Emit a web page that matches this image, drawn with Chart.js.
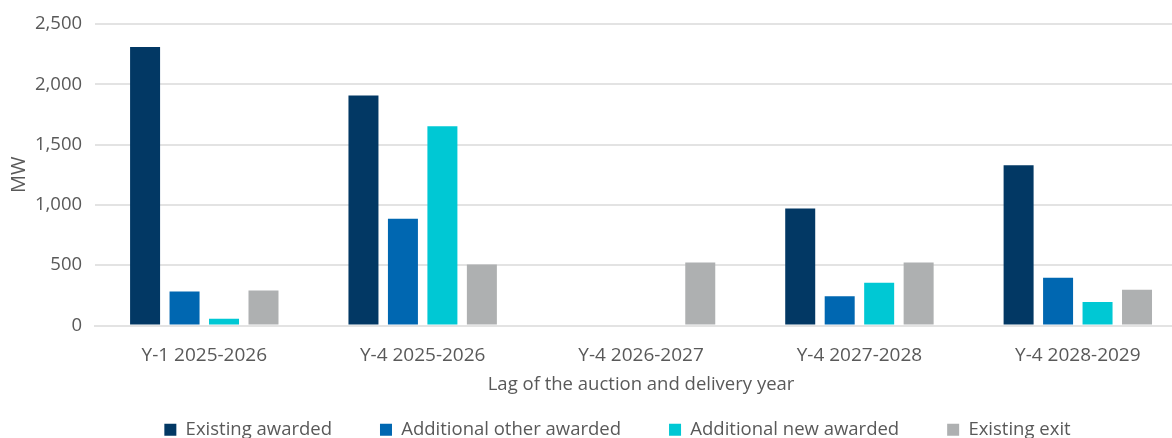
<!DOCTYPE html>
<html>
<head>
<meta charset="utf-8">
<script src="https://cdn.jsdelivr.net/npm/chart.js@4"></script>
<style>
  html, body { margin: 0; padding: 0; background: #fff; overflow: hidden; }
  #wrap { width: 1190px; height: 438px; }
</style>
</head>
<body>
<div id="wrap"><canvas id="capacityChart"></canvas></div>
<script>
// Auction categories (lag + delivery year)
const categories = ['Y-1 2025-2026', 'Y-4 2025-2026', 'Y-4 2026-2027', 'Y-4 2027-2028', 'Y-4 2028-2029'];

// MW per series
const existingAwarded = [2310, 1908, 0, 970, 1330];
const additionalOther = [282, 886, 0, 243, 396];
const additionalNew = [56, 1653, 0, 355, 194];
const existingExit = [290, 507, 523, 523, 296];

const yTicks = [0, 500, 1000, 1500, 2000, 2500];

const textColor = '#595959';
Chart.defaults.font.family = "'Open Sans', sans-serif";
Chart.defaults.color = textColor;

// nudge the legend row to the right of the canvas centre
const legendShift = {
    id: 'legendShift',
    afterLayout(chart) {
        chart.legend.left += 22;
        chart.legend.right += 22;
    }
};

const ctx = document.getElementById('capacityChart').getContext('2d');

new Chart(ctx, {
    type: 'bar',
    data: {
        labels: categories,
        datasets: [
            { label: 'Existing awarded', data: existingAwarded, backgroundColor: '#023864' },
            { label: 'Additional other awarded', data: additionalOther, backgroundColor: '#0067b1' },
            { label: 'Additional new awarded', data: additionalNew, backgroundColor: '#00c8d4' },
            { label: 'Existing exit', data: existingExit, backgroundColor: '#aeb0b1' }
        ]
    },
    plugins: [legendShift],
    options: {
        responsive: true,
        maintainAspectRatio: false,
        animation: false,
        datasets: {
            bar: { categoryPercentage: 0.723, barPercentage: 0.76 }
        },
        // negative bottom padding lets the legend row sit close to the edge
        layout: { padding: { top: 9, left: 4, right: 3, bottom: -11 } },
        plugins: {
            legend: {
                position: 'bottom',
                labels: {
                    boxWidth: 12,
                    boxHeight: 12,
                    padding: 48,
                    font: { size: 18.5 },
                    color: textColor
                }
            },
            tooltip: { enabled: false }
        },
        scales: {
            y: {
                min: 0,
                max: 2500,
                afterBuildTicks: axis => { axis.ticks = yTicks.map(v => ({ value: v })); },
                grid: { color: '#e3e3e3', lineWidth: 2, drawTicks: false },
                border: { display: false },
                ticks: {
                    padding: 13,
                    font: { size: 18.5 },
                    callback: v => v.toLocaleString('en-US')
                },
                title: { display: true, text: 'MW', font: { size: 20 }, padding: { top: 3.5, bottom: -9.5 } }
            },
            x: {
                grid: { display: false, drawTicks: false },
                border: { display: true, color: '#e3e3e3', width: 2 },
                ticks: { padding: 19, font: { size: 19 } },
                title: {
                    display: true,
                    text: 'Lag of the auction and delivery year',
                    font: { size: 18.5 },
                    // pulled up so the wide legend padding overlaps empty space
                    padding: { top: -13, bottom: -23 }
                }
            }
        }
    }
});
</script>
</body>
</html>
